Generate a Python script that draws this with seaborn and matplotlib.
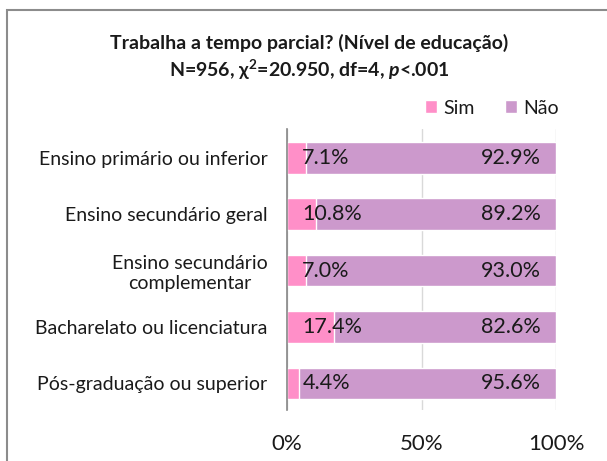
import pandas as pd
import seaborn as sns
from matplotlib import pyplot as plt
from matplotlib.patches import Rectangle, Patch

categories = ["Ensino primário ou inferior", "Ensino secundário geral",
              "Ensino secundário\ncomplementar", "Bacharelato ou licenciatura",
              "Pós-graduação ou superior"]
sim = [7.1, 10.8, 7.0, 17.4, 4.4]
nao = [92.9, 89.2, 93.0, 82.6, 95.6]
xticks = [0, 50, 100]
xticklabels = ["0%", "50%", "100%"]

sim_color = "#FF8FC8"
nao_color = "#CC99CC"

sns.set_style("white")
plt.rcParams['font.family'] = ['Lato', 'DejaVu Sans']
plt.rcParams['mathtext.fontset'] = 'custom'
plt.rcParams['mathtext.rm'] = 'Lato:bold'
plt.rcParams['mathtext.it'] = 'Lato:italic:bold'

df = pd.DataFrame({'cat': categories, 'sim': sim, 'nao': nao})
df['total'] = df['sim'] + df['nao']

fig = plt.figure(figsize=(6.07, 4.61), dpi=100)
ax = fig.add_axes([287 / 607, 1 - 410 / 461, 269 / 607, 281 / 461])

# stacked: total first (Não), then Sim on top from 0
sns.barplot(data=df, x='total', y='cat', color=nao_color, width=0.56,
            saturation=1, ax=ax, zorder=2)
sns.barplot(data=df, x='sim', y='cat', color=sim_color, width=0.56,
            saturation=1, ax=ax, zorder=3)

for i, (s, n) in enumerate(zip(sim, nao)):
    ax.annotate(f"{s:.1f}%", xy=(0, i), xytext=(11, 0), textcoords='offset points',
                ha='left', va='center', fontsize=15.5, color='#1a1a1a', zorder=5)
    ax.annotate(f"{n:.1f}%", xy=(100, i), xytext=(-11, 0), textcoords='offset points',
                ha='right', va='center', fontsize=15.5, color='#1a1a1a', zorder=5)

ax.set_xlim(0, 100)
ax.set_ylim(4.47, -0.51)
ax.set_xticks(xticks)
ax.set_xticklabels(xticklabels)
ax.set_xlabel("")
ax.set_ylabel("")
ax.tick_params(axis='x', length=0, pad=17, labelsize=16, labelcolor='#1a1a1a')
ax.tick_params(axis='y', length=0, pad=14, labelsize=14, labelcolor='#1a1a1a')
for lbl in ax.get_yticklabels():
    lbl.set_multialignment('center')
ax.xaxis.grid(True, color='#D9D9D9', lw=1, zorder=0)
ax.set_axisbelow(True)
for side in ['top', 'right', 'bottom']:
    ax.spines[side].set_visible(False)
ax.spines['left'].set_color('#868686')
ax.spines['left'].set_linewidth(1.2)
ax.spines['left'].set_zorder(6)

fig.text(309 / 607, 1 - 43 / 461, "Trabalha a tempo parcial? (Nível de educação)",
         ha='center', va='center', fontsize=14, fontweight='bold', color='#1a1a1a')
fig.text(309 / 607, 1 - 70 / 461, r"N=956, χ$^2$=20.950, df=4, $\it{p}$<.001",
         ha='center', va='center', fontsize=14, fontweight='bold', color='#1a1a1a')

handles = [Patch(facecolor=sim_color, label='Sim'), Patch(facecolor=nao_color, label='Não')]
fig.legend(handles=handles, loc='center', bbox_to_anchor=(492 / 607, 1 - 108 / 461),
           ncol=2, frameon=False, fontsize=14, handlelength=0.6, handleheight=0.6,
           handletextpad=0.3, columnspacing=1.6, labelcolor='#1a1a1a')

fig.patches.append(Rectangle((7 / 607, -0.1), 1.2, 1 - 10 / 461 + 0.1,
                             transform=fig.transFigure, fill=False,
                             edgecolor='#8c8c8c', lw=1.5))

plt.savefig("out.png", dpi=100)
